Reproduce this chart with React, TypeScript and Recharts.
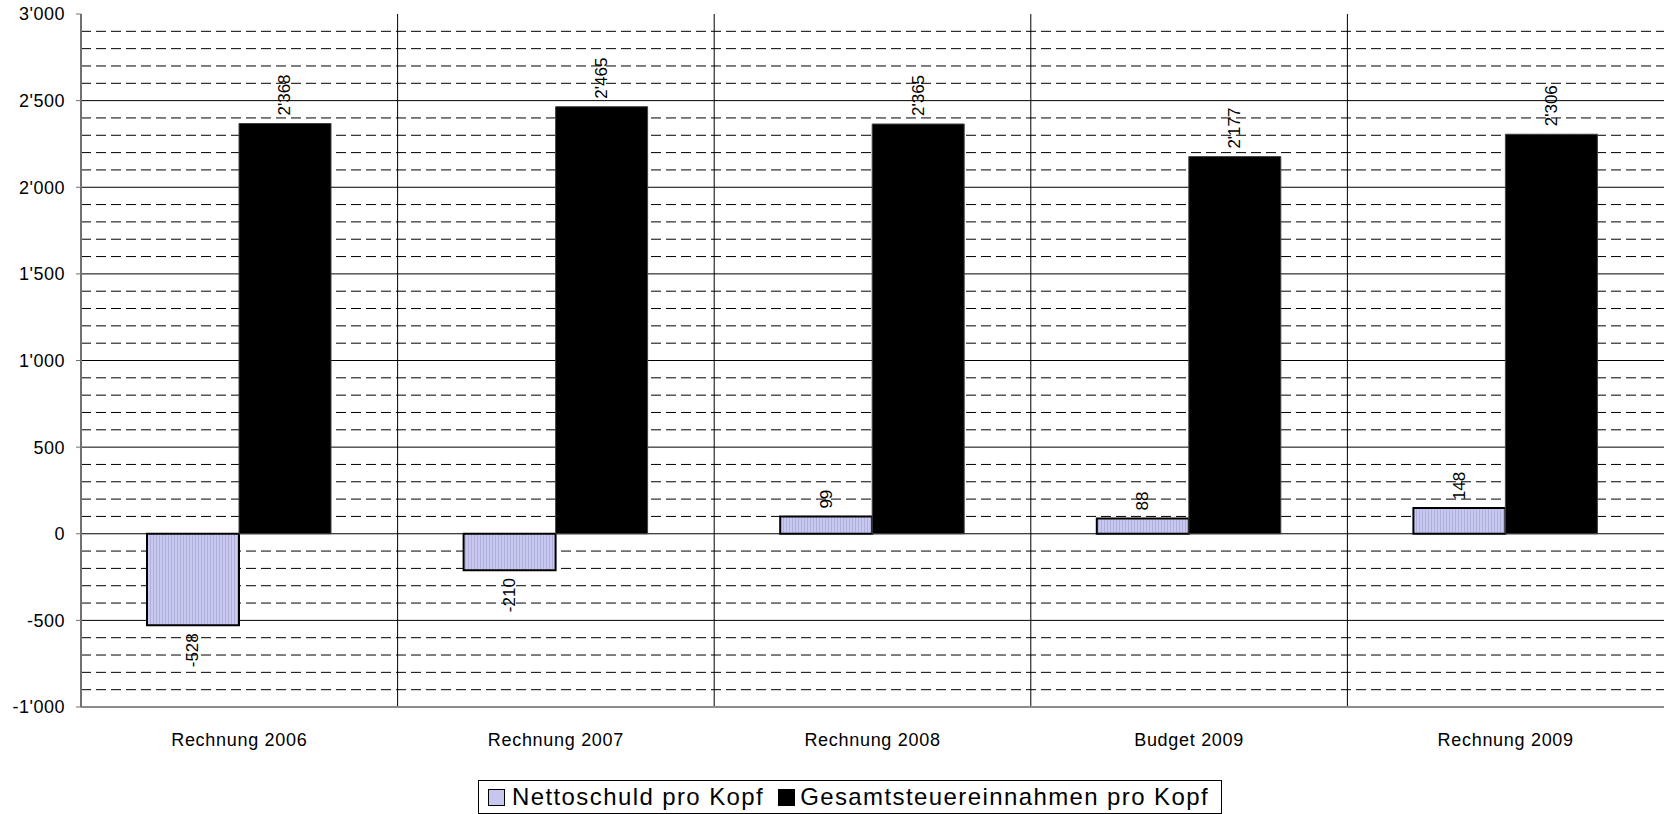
import { BarChart, Bar, XAxis, YAxis, CartesianGrid, Legend, LabelList } from 'recharts';

const categories = ['Rechnung 2006', 'Rechnung 2007', 'Rechnung 2008', 'Budget 2009', 'Rechnung 2009'];
const nettoschuld = [-528, -210, 99, 88, 148];
const steuern = [2368, 2465, 2365, 2177, 2306];
const yTicks = [-1000, -500, 0, 500, 1000, 1500, 2000, 2500, 3000];
const minorTicks = [
  -900, -800, -700, -600, -400, -300, -200, -100, 100, 200, 300, 400, 600, 700, 800, 900,
  1100, 1200, 1300, 1400, 1600, 1700, 1800, 1900, 2100, 2200, 2300, 2400, 2600, 2700, 2800, 2900,
];

const data = categories.map((name, i) => ({ name, netto: nettoschuld[i], steuer: steuern[i] }));

const FONT = '"Liberation Sans", Arial, sans-serif';
const Y_MIN = yTicks[0];
const Y_MAX = yTicks[yTicks.length - 1];

const fmt = (v: number) => String(v).replace(/\B(?=(\d{3})+(?!\d))/g, "'");

// grid generator: map a value into the plot area (same linear scale as the y axis)
const gridY = (yAxis: any, offset: any, v: number) => {
  if (yAxis && typeof yAxis.scale === 'function') return yAxis.scale(v);
  return offset.top + ((Y_MAX - v) / (Y_MAX - Y_MIN)) * offset.height;
};

const RotLabel = (props: any) => {
  const { x, y, width, height, value } = props;
  if (value == null) return null;
  const cx = x + width / 2;
  const top = Math.min(y, y + height);
  const bottom = Math.max(y, y + height);
  const pos = value >= 0;
  const ty = pos ? top - 8 : bottom + 8;
  return (
    <text
      x={cx}
      y={ty}
      transform={`rotate(-90, ${cx}, ${ty})`}
      textAnchor={pos ? 'start' : 'end'}
      dominantBaseline="central"
      fontSize={17}
      fontFamily={FONT}
      fill="#000"
    >
      {fmt(value)}
    </text>
  );
};

const LegendBox = () => (
  <div
    style={{
      marginLeft: 478,
      width: 744,
      height: 34,
      boxSizing: 'border-box',
      border: '1px solid #000',
      display: 'flex',
      alignItems: 'center',
      paddingLeft: 9,
      fontFamily: FONT,
      fontSize: 24,
      letterSpacing: 1.4,
      color: '#000',
      whiteSpace: 'nowrap',
    }}
  >
    <span style={{ width: 15, height: 15, border: '1px solid #000', backgroundColor: '#c6c6ee', marginRight: 7 }} />
    <span>Nettoschuld pro Kopf</span>
    <span style={{ width: 17, height: 17, background: '#000', marginLeft: 14, marginRight: 5 }} />
    <span>Gesamtsteuereinnahmen pro Kopf</span>
  </div>
);

const App = () => {
  return (
    <div style={{ position: 'absolute', left: 0, top: 0, background: '#fff' }}>
      <svg width={0} height={0} style={{ position: 'absolute' }}>
        <defs>
          <pattern id="lilac" width={3} height={3} patternUnits="userSpaceOnUse">
            <rect width={3} height={3} fill="#c8c8f0" />
            <rect width={1} height={3} fill="#b0b0dc" />
          </pattern>
        </defs>
      </svg>
      <BarChart
        width={1664}
        height={814}
        data={data}
        margin={{ top: 14, right: 0, bottom: 0, left: 0 }}
        barGap={0}
        style={{ fontFamily: FONT }}
      >
        <CartesianGrid
          vertical={false}
          stroke="#000"
          strokeDasharray="10 5"
          horizontalCoordinatesGenerator={({ yAxis, offset }: any) => minorTicks.map((t) => gridY(yAxis, offset, t))}
        />
        <CartesianGrid
          stroke="#000"
          horizontalCoordinatesGenerator={({ yAxis, offset }: any) =>
            yTicks.slice(1, -1).map((t) => gridY(yAxis, offset, t))
          }
          verticalCoordinatesGenerator={({ offset }: any) =>
            categories.slice(1).map((_, i) => offset.left + (offset.width * (i + 1)) / categories.length)
          }
        />
        <XAxis
          dataKey="name"
          height={73}
          tickLine={false}
          tickMargin={20}
          axisLine={{ stroke: '#8c8c8c', strokeWidth: 2 }}
          tick={{ fill: '#000', fontSize: 18, letterSpacing: 0.7 }}
        />
        <XAxis
          xAxisId="top"
          orientation="top"
          dataKey="name"
          height={0}
          tick={false}
          tickLine={false}
          axisLine={{ stroke: '#a0a0a0', strokeWidth: 2 }}
        />
        <YAxis
          width={81}
          domain={[Y_MIN, Y_MAX]}
          ticks={yTicks}
          interval={0}
          allowDataOverflow
          tickSize={5}
          tickMargin={11}
          tickFormatter={fmt}
          axisLine={{ stroke: '#707070', strokeWidth: 2 }}
          tickLine={{ stroke: '#707070' }}
          tick={{ fill: '#000', fontSize: 18, letterSpacing: 0.5 }}
        />
        <Legend verticalAlign="bottom" wrapperStyle={{ left: 0, bottom: 0, width: 1664, height: 34 }} content={<LegendBox />} />
        <Bar dataKey="netto" name="Nettoschuld pro Kopf" fill="url(#lilac)" stroke="#000" strokeWidth={2} barSize={92} isAnimationActive={false}>
          <LabelList dataKey="netto" content={<RotLabel />} />
        </Bar>
        <Bar dataKey="steuer" name="Gesamtsteuereinnahmen pro Kopf" fill="#000" stroke="#404040" strokeWidth={1} barSize={92} isAnimationActive={false}>
          <LabelList dataKey="steuer" content={<RotLabel />} />
        </Bar>
      </BarChart>
    </div>
  );
};

export default App;
